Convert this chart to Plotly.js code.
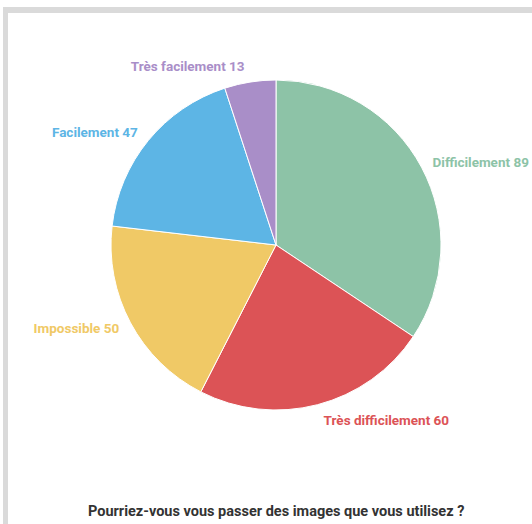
<!DOCTYPE html>
<html>
<head>
<meta charset="utf-8">
<script src="https://cdn.plot.ly/plotly-3.0.1.min.js"></script>
<style>
  html, body { margin: 0; padding: 0; background: #fff; width: 532px; height: 524px; overflow: hidden; }
  #frame { position: absolute; left: 3px; top: 7px; width: 540px; height: 530px; border-top: 6px solid #dadada; border-left: 5px solid #dadada; box-sizing: border-box; }
  #chart { position: absolute; left: 0; top: 0; width: 532px; height: 524px; }
</style>
</head>
<body>
<div id="frame"></div>
<div id="chart"></div>
<script>
const categories = ["Difficilement", "Très difficilement", "Impossible", "Facilement", "Très facilement"];
const values = [89, 60, 50, 47, 13];
const colors = ["#8dc3a7", "#dc5356", "#f0c966", "#5db5e5", "#a98ec8"];
const titleText = "Pourriez-vous vous passer des images que vous utilisez ?";

const pieTrace = {
  type: "pie",
  labels: categories,
  values: values,
  sort: false,
  direction: "clockwise",
  rotation: 0,
  domain: { x: [0.04167, 0.95833], y: [0.04167, 0.95833] },
  marker: { colors: colors, line: { color: "#ffffff", width: 1 } },
  textinfo: "none",
  hoverinfo: "label+value",
  showlegend: false,
  automargin: false
};

// transparent, slightly larger ring that only carries the outside labels
const labelTrace = {
  type: "pie",
  labels: categories,
  values: values,
  sort: false,
  direction: "clockwise",
  rotation: 0,
  domain: { x: [0.0194, 0.9806], y: [0.0194, 0.9806] },
  marker: { colors: colors.map(() => "rgba(0,0,0,0)"), line: { width: 0 } },
  textposition: "outside",
  texttemplate: "%{label} %{value}",
  textfont: { family: "Roboto, sans-serif", size: 13.5, color: colors, weight: "bold" },
  hoverinfo: "skip",
  showlegend: false,
  automargin: false
};

const layout = {
  width: 532,
  height: 524,
  margin: { l: 96, r: 76, t: 65, b: 99 },
  paper_bgcolor: "rgba(0,0,0,0)",
  plot_bgcolor: "rgba(0,0,0,0)",
  showlegend: false,
  annotations: [{
    text: titleText,
    xref: "paper", yref: "paper",
    x: 0.5, y: -0.239, xanchor: "center", yanchor: "middle",
    showarrow: false,
    font: { family: "Roboto, sans-serif", size: 14.5, color: "#333333", weight: "bold" }
  }]
};

Plotly.newPlot("chart", [pieTrace, labelTrace], layout, { displayModeBar: false, staticPlot: true });
</script>
</body>
</html>
